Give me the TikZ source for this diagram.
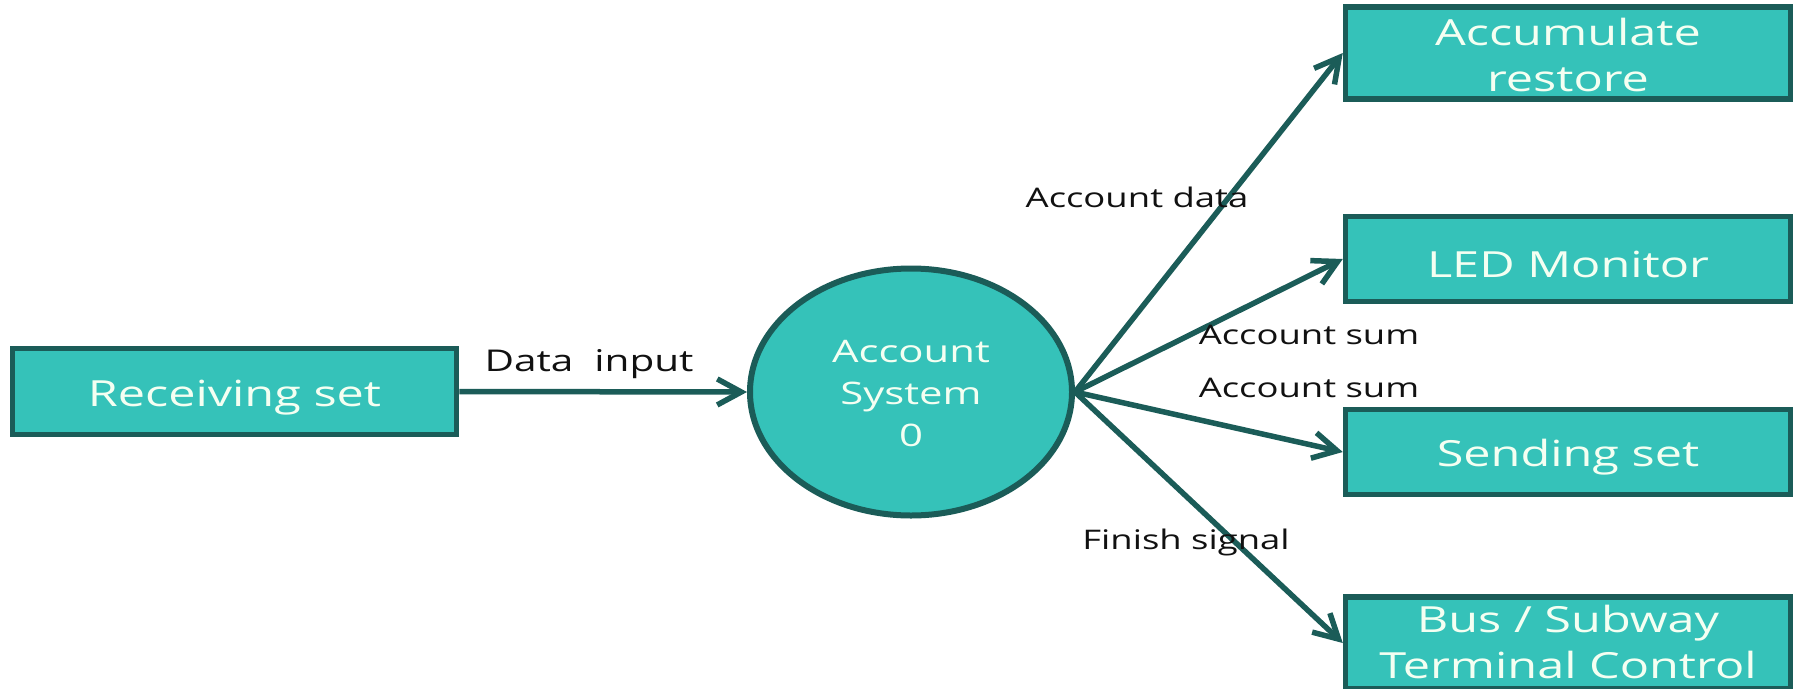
\documentclass[tikz,border=0pt]{standalone}
\usepackage{fontspec}
\setmainfont{Open Sans}
\usepackage{graphicx}
\usetikzlibrary{arrows.meta,shapes.geometric}
\definecolor{tealfill}{HTML}{35C2B9}
\definecolor{tealdark}{HTML}{1B5C58}
\definecolor{boxtext}{HTML}{F4FFF2}
\definecolor{labtext}{HTML}{111111}
\newcommand\sx[1]{\scalebox{1.35}[1]{#1}}
\newcommand\lowered[2]{\raisebox{-#1}[\height][\depth]{#2}}
\newcommand\boxfont{\fontsize{36}{46}\selectfont}
\newcommand\circfont{\fontsize{31}{42}\selectfont}
\newcommand\labfont{\fontsize{27}{32}\selectfont}
\newcommand\biglabfont{\fontsize{30}{36}\selectfont}
\newcommand\twolines[2]{\sx{\begin{tabular}{@{}c@{}}#1\\#2\end{tabular}}}
\newcommand\threelines[3]{\sx{\begin{tabular}{@{}c@{}}#1\\#2\\#3\end{tabular}}}
\begin{document}
\begin{tikzpicture}[x=1pt,y=-1pt,
  blockbox/.style={draw=tealdark, fill=tealfill, line width=5.5pt, rectangle,
    inner sep=0pt, text=boxtext, font=\boxfont, minimum width=445pt, minimum height=85pt},
  procnode/.style={draw=tealdark, fill=tealfill, line width=6pt, ellipse,
    inner sep=0pt, text=boxtext, font=\circfont, minimum width=322pt, minimum height=247pt},
  conn/.style={draw=tealdark, line width=5.5pt,
    -{Straight Barb[length=24pt,width=26pt,line width=5.5pt]}},
  flowlabel/.style={text=labtext, font=\labfont, inner sep=0pt}]
\clip (0,0) rectangle (1803,688);
\fill[white] (0,0) rectangle (1803,688);

\node[blockbox, minimum width=444pt, minimum height=86pt] (recv) at (234.5,391.5) {\lowered{6pt}{\sx{Receiving set}}};
\node[procnode] (sys) at (911,392) {\lowered{4pt}{\threelines{Account}{System}{0}}};

\node[blockbox] (acc) at (1568,53) {\lowered{6pt}{\twolines{Accumulate}{restore}}};
\node[blockbox] (led) at (1568,259) {\lowered{5pt}{\sx{LED Monitor}}};
\node[blockbox] (send) at (1568,452) {\lowered{5pt}{\sx{Sending set}}};
\node[blockbox] (bus) at (1568,643) {\lowered{3pt}{\twolines{Bus / Subway}{Terminal Control}}};

\draw[conn] (recv.east) -- (sys.west);
\draw[conn] (sys.east) -- (acc.west);
\draw[conn] (sys.east) -- (led.west);
\draw[conn] (sys.east) -- (send.west);
\draw[conn] (sys.east) -- (bus.west);

\node[flowlabel, font=\biglabfont] (ldata) at (589,364) {\sx{Data\ \ input}};
\node[flowlabel] (laccd) at (1137,197) {\sx{Account data}};
\node[flowlabel] (lsum1) at (1309,335) {\sx{Account sum}};
\node[flowlabel] (lsum2) at (1309,388) {\sx{Account sum}};
\node[flowlabel] (lfin) at (1186,542) {\sx{Finish signal}};
\end{tikzpicture}
\end{document}
